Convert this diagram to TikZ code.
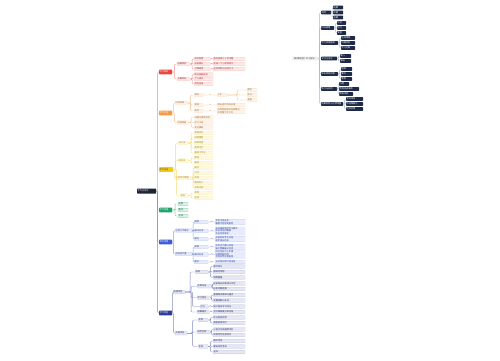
\documentclass[tikz,border=0pt]{standalone}
\usepackage{fontspec}
\setmainfont{Noto Sans CJK SC}
\usetikzlibrary{calc}
\definecolor{cNavy}{HTML}{1C2436}
\definecolor{cRed}{HTML}{E8453C}
\definecolor{cOrange}{HTML}{F29B45}
\definecolor{cYellow}{HTML}{F2C811}
\definecolor{cGreen}{HTML}{1FA36A}
\definecolor{cBlue}{HTML}{3B5BDB}
\definecolor{cIndigo}{HTML}{2E3A99}
\definecolor{cRnav}{HTML}{1E2A47}
\definecolor{cRline}{HTML}{A9B8D3}
\newcommand\mmnode[6]{\node[#5] (#1) at (#2,#3) {\parbox{\dimexpr #4pt-1pt\relax}{\raggedright #6}};}
\newcommand\mmlink[3]{\draw[#1] (#2.east) -| ($(#2.east)!.5!(#3.west)$) |- (#3.west);}
\tikzset{
  base/.style={inner sep=0.5pt, rounded corners=0.5pt, minimum height=3.6pt,
    font=\fontsize{2.2}{2.6}\selectfont, anchor=west, line width=0.2pt},
  rootnode/.style={base, fill=cNavy, text=white, minimum height=5pt},
  main/.style={base, fill=#1, text=white, minimum height=4.6pt},
  lvl/.style={base, fill=#1!12, draw=#1!30, text=#1!70!black},
  grn/.style={base, fill=cGreen!15, draw=cGreen!60, text=cGreen!70!black},
  ln/.style={draw=#1!60, line width=0.35pt, rounded corners=1pt},
  rnode/.style={base, fill=cRnav, text=white},
  rroot/.style={base, fill=black!6, text=black!70},
  rln/.style={draw=cRline, line width=0.35pt, rounded corners=1pt}
}
\begin{document}
\begin{tikzpicture}[x=1pt,y=-1pt]
\useasboundingbox (0,0) rectangle (500,360);
\fill[white] (0,0) rectangle (500,360);

% ---------- left map ----------
\mmnode{R}{137}{191}{19}{rootnode}{学习方法论}
\mmnode{B1}{159}{72}{13}{main=cRed}{学习目标}
\mmnode{B2}{159}{113}{13}{main=cOrange}{学习计划}
\mmnode{B3}{159}{169.5}{14}{main=cYellow,text=black!75}{学习方法}
\mmnode{B4}{159}{210}{13}{main=cGreen}{学习环境}
\mmnode{B5}{159}{242}{13}{main=cBlue}{常见问题}
\mmnode{B6}{159}{313}{13}{main=cIndigo}{学习评估}
\mmlink{ln=cRed}{R}{B1}
\mmlink{ln=cOrange}{R}{B2}
\mmlink{ln=cYellow}{R}{B3}
\mmlink{ln=cGreen}{R}{B4}
\mmlink{ln=cBlue}{R}{B5}
\mmlink{ln=cIndigo}{R}{B6}

% red
\mmnode{B1a}{177}{64}{13}{lvl=cRed}{短期目标}
\mmnode{B1b}{177}{79}{13}{lvl=cRed}{长期目标}
\mmnode{r1}{194}{59}{16}{lvl=cRed}{知识积累}
\mmnode{r2}{194}{64}{16}{lvl=cRed}{技能提升}
\mmnode{r3}{194}{69}{16}{lvl=cRed}{习惯养成}
\mmnode{r1l}{213}{59}{32}{lvl=cRed}{每天阅读三十页书籍}
\mmnode{r2l}{213}{64}{32}{lvl=cRed}{完成一个小项目练习}
\mmnode{r3l}{213}{69}{32}{lvl=cRed}{坚持早起与运动打卡}
\mmnode{r4}{194}{74.5}{19}{lvl=cRed}{职业发展规划}
\mmnode{r5}{194}{79}{19}{lvl=cRed}{个人成长}
\mmnode{r6}{194}{84}{19}{lvl=cRed}{财务自由}
\foreach \a/\b in {B1/B1a,B1/B1b,B1a/r1,B1a/r2,B1a/r3,r1/r1l,r2/r2l,r3/r3l,B1b/r4,B1b/r5,B1b/r6}{\mmlink{ln=cRed}{\a}{\b}}

% orange
\mmnode{B2a}{175}{103}{12}{lvl=cOrange}{时间安排}
\mmnode{o1}{194}{95}{9}{lvl=cOrange}{每日}
\mmnode{o1l}{217}{95}{10}{lvl=cOrange}{上午}
\mmnode{o1a}{247}{90}{10}{lvl=cOrange}{理论}
\mmnode{o1b}{247}{95}{10}{lvl=cOrange}{练习}
\mmnode{o1c}{247}{100}{10}{lvl=cOrange}{复盘}
\mmnode{o2}{194}{105}{9}{lvl=cOrange}{每周}
\mmnode{o2l}{217}{105}{28}{lvl=cOrange}{周末进行系统总结}
\mmnode{o3}{194}{111}{9}{lvl=cOrange}{每月}
\mmnode{o3l}{217}{111}{28}{lvl=cOrange}{月底检查目标完成情况\\并调整下月计划}
\mmnode{B2b}{177}{122.5}{11}{lvl=cOrange}{资源准备}
\mmnode{o4}{194}{117.5}{19}{lvl=cOrange}{书籍与课程资料}
\mmnode{o5}{194}{122.5}{19}{lvl=cOrange}{学习工具}
\mmnode{o6}{194}{127.5}{19}{lvl=cOrange}{笔记模板}
\foreach \a/\b in {B2/B2a,B2/B2b,B2a/o1,B2a/o2,B2a/o3,o1/o1l,o1l/o1a,o1l/o1b,o1l/o1c,o2/o2l,o3/o3l,B2b/o4,B2b/o5,B2b/o6}{\mmlink{ln=cOrange}{\a}{\b}}

% yellow
\mmnode{B3a}{178}{143}{10}{lvl=cYellow}{记忆法}
\mmnode{y1}{194}{133}{19}{lvl=cYellow}{费曼技巧}
\mmnode{y2}{194}{138}{19}{lvl=cYellow}{间隔重复}
\mmnode{y3}{194}{143}{19}{lvl=cYellow}{思维导图}
\mmnode{y4}{194}{148}{19}{lvl=cYellow}{联想记忆}
\mmnode{y5}{194}{153}{19}{lvl=cYellow}{番茄工作法}
\mmnode{B3b}{178}{160.5}{10}{lvl=cYellow}{阅读法}
\mmnode{y6}{194}{158}{19}{lvl=cYellow}{精读}
\mmnode{y7}{194}{163}{19}{lvl=cYellow}{略读}
\mmnode{B3c}{175}{178}{17}{lvl=cYellow}{主动学习策略}
\mmnode{y8}{194}{168}{19}{lvl=cYellow}{提问}
\mmnode{y9}{194}{173}{19}{lvl=cYellow}{讨论}
\mmnode{y10}{194}{178}{19}{lvl=cYellow}{实践}
\mmnode{y11}{194}{183}{19}{lvl=cYellow}{教授他人}
\mmnode{y12}{194}{188}{19}{lvl=cYellow}{总结归纳}
\mmnode{B3d}{180}{195.5}{8}{lvl=cYellow}{其他}
\mmnode{y13}{194}{193}{19}{lvl=cYellow}{冥想}
\mmnode{y14}{194}{198}{19}{lvl=cYellow}{运动}
\foreach \a/\b in {B3/B3a,B3/B3b,B3/B3c,B3/B3d,B3a/y1,B3a/y2,B3a/y3,B3a/y4,B3a/y5,B3b/y6,B3b/y7,B3c/y8,B3c/y9,B3c/y10,B3c/y11,B3c/y12,B3d/y13,B3d/y14}{\mmlink{ln=cYellow}{\a}{\b}}

% green
\mmnode{g1}{178}{204}{10}{grn}{安静}
\mmnode{g2}{178}{210}{10}{grn}{整洁}
\mmnode{g3}{178}{216}{10}{grn}{光线}
\foreach \b in {g1,g2,g3}{\mmlink{ln=cGreen}{B4}{\b}}

% blue
\mmnode{B5a}{175}{230.5}{17}{lvl=cBlue}{注意力不集中}
\mmnode{b1}{194}{222}{14}{lvl=cBlue}{原因}
\mmnode{b1l}{215}{222}{30}{lvl=cBlue}{手机干扰过多\\睡眠不足导致疲劳}
\mmnode{b2}{194}{231}{14}{lvl=cBlue}{解决办法}
\mmnode{b2l}{215}{231}{30}{lvl=cBlue}{关闭通知使用专注模式\\保证充足的睡眠\\适当休息放松}
\mmnode{b3}{194}{239}{14}{lvl=cBlue}{建议}
\mmnode{b3l}{215}{239}{30}{lvl=cBlue}{从短时间专注开始\\逐步延长时长}
\mmnode{B5b}{175}{254}{17}{lvl=cBlue}{拖延症严重}
\mmnode{b4}{194}{247}{14}{lvl=cBlue}{原因}
\mmnode{b4l}{215}{247}{30}{lvl=cBlue}{任务太大难以开始\\缺乏明确截止时间}
\mmnode{b5}{194}{254.5}{14}{lvl=cBlue}{解决办法}
\mmnode{b5l}{215}{254.5}{30}{lvl=cBlue}{拆分任务为小步骤\\设置奖励机制\\寻找伙伴互相监督}
\mmnode{b6}{194}{262}{14}{lvl=cBlue}{建议}
\mmnode{b6l}{215}{262}{30}{lvl=cBlue}{五分钟立即行动法则}
\foreach \a/\b in {B5/B5a,B5/B5b,B5a/b1,B5a/b2,B5a/b3,b1/b1l,b2/b2l,b3/b3l,B5b/b4,B5b/b5,B5b/b6,b4/b4l,b5/b5l,b6/b6l}{\mmlink{ln=cBlue}{\a}{\b}}

% indigo
\mmnode{B6a}{173}{292}{12}{lvl=cIndigo}{自我评估}
\mmnode{c1}{195}{272}{13}{lvl=cIndigo}{测试}
\mmnode{c1a}{213}{266.5}{32}{lvl=cIndigo}{章节练习}
\mmnode{c1b}{213}{272}{32}{lvl=cIndigo}{模拟考试题}
\mmnode{c1c}{213}{277.5}{32}{lvl=cIndigo}{错题整理}
\mmnode{c2}{197}{286.25}{15}{lvl=cIndigo}{反思日记}
\mmnode{c2a}{213}{283.5}{32}{lvl=cIndigo}{记录每天的收获与不足}
\mmnode{c2b}{213}{289}{32}{lvl=cIndigo}{分析问题根源}
\mmnode{c3}{197}{297.75}{13}{lvl=cIndigo}{学习笔记}
\mmnode{c3a}{213}{295}{32}{lvl=cIndigo}{整理知识框架与重点}
\mmnode{c3b}{213}{300.5}{32}{lvl=cIndigo}{定期回顾与补充}
\mmnode{c4}{200}{306.5}{8}{lvl=cIndigo}{打卡}
\mmnode{c4a}{213}{306.5}{32}{lvl=cIndigo}{统计每日学习时长}
\mmnode{c5}{197}{312}{12}{lvl=cIndigo}{成果展示}
\mmnode{c5a}{213}{312}{32}{lvl=cIndigo}{写文章或做分享总结}
\mmnode{B6b}{175}{333.25}{12}{lvl=cIndigo}{外部评估}
\mmnode{d1}{198}{320}{10}{lvl=cIndigo}{老师}
\mmnode{d1a}{213}{317.5}{32}{lvl=cIndigo}{作业批改反馈}
\mmnode{d1b}{213}{323}{32}{lvl=cIndigo}{课堂表现评价}
\mmnode{d2}{197}{332}{13}{lvl=cIndigo}{同学互评}
\mmnode{d2a}{213}{329.5}{32}{lvl=cIndigo}{小组讨论贡献度评价}
\mmnode{d2b}{213}{335}{32}{lvl=cIndigo}{项目合作互相评价}
\mmnode{d3}{198}{346.5}{10}{lvl=cIndigo}{考试}
\mmnode{d3a}{213}{341}{32}{lvl=cIndigo}{期中考试}
\mmnode{d3b}{213}{346.5}{32}{lvl=cIndigo}{期末综合考核}
\mmnode{d3c}{213}{352}{32}{lvl=cIndigo}{证书}
\foreach \a/\b in {B6/B6a,B6/B6b,B6a/c1,B6a/c2,B6a/c3,B6a/c4,B6a/c5,c1/c1a,c1/c1b,c1/c1c,c2/c2a,c2/c2b,c3/c3a,c3/c3b,c4/c4a,c5/c5a,B6b/d1,B6b/d2,B6b/d3,d1/d1a,d1/d1b,d2/d2a,d2/d2b,d3/d3a,d3/d3b,d3/d3c}{\mmlink{ln=cIndigo}{\a}{\b}}

% ---------- right map ----------
\mmnode{RR}{292}{58.5}{26}{rroot}{【思维导图】学习规划}
\mmnode{M1}{321}{12.5}{10}{rnode}{目标}
\mmnode{M2}{321}{28}{13}{rnode}{时间管理}
\mmnode{M3}{321}{43}{17}{rnode}{学习资源整理}
\mmnode{M4}{321}{58.5}{16}{rnode}{学习方法论}
\mmnode{M5}{321}{74}{17}{rnode}{知识体系构建}
\mmnode{M6}{321}{89}{16}{rnode}{练习与应用}
\mmnode{M7}{321}{104}{22}{rnode}{成果检验与反馈调整}
\foreach \b in {M1,M2,M3,M4,M5,M6,M7}{\mmlink{rln}{RR}{\b}}
\mmnode{m11}{333}{7.5}{10}{rnode}{近期}
\mmnode{m12}{333}{12.5}{10}{rnode}{中期}
\mmnode{m13}{333}{17.5}{10}{rnode}{远期}
\mmnode{m21}{337}{23}{9}{rnode}{计划}
\mmnode{m22}{337}{28}{9}{rnode}{执行}
\mmnode{m23}{337}{33}{9}{rnode}{复盘}
\mmnode{m31}{341}{38}{14}{rnode}{在线课程}
\mmnode{m32}{341}{43}{14}{rnode}{书籍资料}
\mmnode{m33}{341}{48}{14}{rnode}{学习社群}
\mmnode{m41}{340}{56}{11}{rnode}{输入}
\mmnode{m42}{340}{61}{11}{rnode}{输出}
\mmnode{m51}{341}{69}{11}{rnode}{框架}
\mmnode{m52}{341}{74}{11}{rnode}{要点}
\mmnode{m53}{341}{79}{11}{rnode}{案例}
\mmnode{m61}{339}{84}{10}{rnode}{习题}
\mmnode{m62}{339}{89}{20}{rnode}{项目实战演练}
\mmnode{m63}{339}{94}{14}{rnode}{模拟测验}
\mmnode{m71}{346}{99}{17}{rnode}{考试测评}
\mmnode{m72}{346}{104}{17}{rnode}{作品集展示}
\mmnode{m73}{346}{109}{17}{rnode}{同伴反馈}
\foreach \a/\b in {M1/m11,M1/m12,M1/m13,M2/m21,M2/m22,M2/m23,M3/m31,M3/m32,M3/m33,M4/m41,M4/m42,M5/m51,M5/m52,M5/m53,M6/m61,M6/m62,M6/m63,M7/m71,M7/m72,M7/m73}{\mmlink{rln}{\a}{\b}}
\end{tikzpicture}
\end{document}
